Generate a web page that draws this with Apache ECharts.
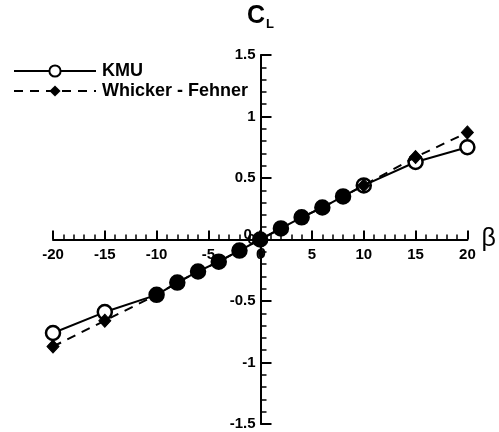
<!DOCTYPE html>
<html><head><meta charset="utf-8">
<script src="https://cdn.jsdelivr.net/npm/echarts@6/dist/echarts.min.js"></script>
<style>html,body{margin:0;padding:0;background:#fff}#c{width:499px;height:432px}</style>
</head><body><div id="c"></div>
<script>
const beta = [-20,-15,-10,-8,-6,-4,-2,0,2,4,6,8,10,15,20];
const kmu = [-0.76,-0.59,-0.45,-0.35,-0.26,-0.18,-0.09,0,0.09,0.18,0.26,0.35,0.44,0.63,0.75];
const wf  = [-0.87,-0.66,-0.45,-0.35,-0.26,-0.18,-0.09,0,0.09,0.18,0.26,0.35,0.44,0.67,0.87];
const seriesNames = ['KMU','Whicker - Fehner'];
const zeroLabel = '0';
const xMin=-20, xMax=20, yMin=-1.5, yMax=1.5;
const FONT = '"Liberation Sans", Arial, sans-serif';
const W=499, H=432, G={left:53,right:31,top:55,bottom:8};
const gw=W-G.left-G.right, gh=H-G.top-G.bottom;
// move axes to cross at the origin (labels follow the axis)
const yOff = -gw*(0-xMin)/(xMax-xMin);
const xOff = -gh*(0-yMin)/(yMax-yMin);
const ox = G.left - yOff, oy = H - G.bottom + xOff;
const chart = echarts.init(document.getElementById('c'));
const lblStyle = {fontFamily:FONT,fontWeight:'bold',fontSize:15,color:'#000'};
chart.setOption({
  animation:false,
  backgroundColor:'#fff',
  legend:{
    orient:'vertical', left:8, top:57, itemWidth:82, itemHeight:14, itemGap:2,
    textStyle:{fontFamily:FONT,fontWeight:'bold',fontSize:18,color:'#000',padding:[0,0,0,1]},
    data:[{name:seriesNames[0],itemStyle:{color:'#fff',borderColor:'#000',borderWidth:2}},
          {name:seriesNames[1]}]
  },
  grid:G,
  xAxis:{
    type:'value',min:xMin,max:xMax,interval:5,offset:xOff,
    name:'β',nameLocation:'end',nameGap:9,
    nameTextStyle:{fontFamily:FONT,fontSize:25,color:'#000',padding:[12,0,0,0]},
    axisLine:{onZero:false,lineStyle:{color:'#000',width:2}},
    axisTick:{inside:true,length:9,lineStyle:{color:'#000',width:2}},
    minorTick:{show:true,splitNumber:5,length:5,lineStyle:{color:'#000',width:1.5}},
    splitLine:{show:false},
    axisLabel:Object.assign({margin:8},lblStyle)
  },
  yAxis:{
    type:'value',min:yMin,max:yMax,interval:0.5,offset:yOff,
    name:'{c|C}{l|L}',nameLocation:'end',nameGap:24,
    nameTextStyle:{rich:{c:{fontFamily:FONT,fontWeight:'bold',fontSize:25,color:'#000'},
                         l:{fontFamily:FONT,fontWeight:'bold',fontSize:13,color:'#000',padding:[16,0,0,1]}}},
    axisLine:{onZero:false,lineStyle:{color:'#000',width:2}},
    axisTick:{inside:true,length:11,lineStyle:{color:'#000',width:2}},
    minorTick:{show:true,splitNumber:5,length:6,lineStyle:{color:'#000',width:1.5}},
    splitLine:{show:false},
    axisLabel:Object.assign({margin:5},lblStyle)
  },
  graphic:[
    {type:'text',left:ox-17,top:oy-12,z:100,zlevel:1,style:{text:zeroLabel,font:'bold 15px '+FONT,fill:'#000'}},
    {type:'text',left:ox-3,top:oy+7,z:100,zlevel:1,style:{text:zeroLabel,font:'bold 15px '+FONT,fill:'#000'}}
  ],
  series:[
    {name:seriesNames[0],type:'line',data:beta.map((b,i)=>[b,kmu[i]]),
     symbol:'circle',symbolSize:14,z:2,
     lineStyle:{color:'#000',width:2},
     itemStyle:{color:p=>(Math.abs(wf[p.dataIndex]-kmu[p.dataIndex])>0.01||beta[p.dataIndex]>=10)?'#fff':'#000',
                borderColor:'#000',borderWidth:2.5}},
    {name:seriesNames[1],type:'line',data:beta.map((b,i)=>[b,wf[i]]),
     symbol:'diamond',symbolSize:[12,13],z:3,
     lineStyle:{color:'#000',width:2,type:[9,7]},
     itemStyle:{color:'#000',borderColor:'#000'}}
  ]
});
</script></body></html>
